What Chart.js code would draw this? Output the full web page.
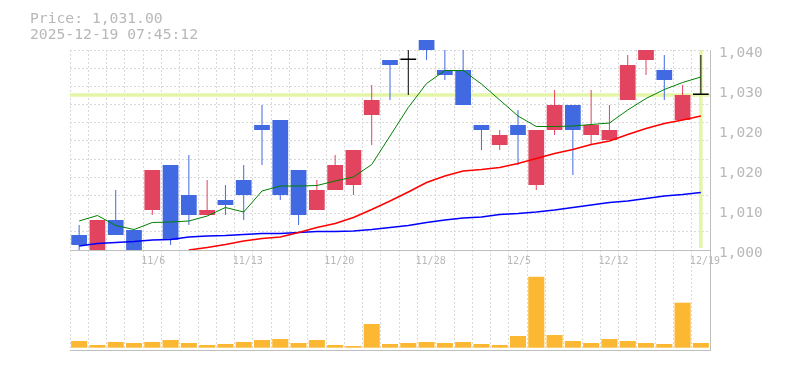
<!DOCTYPE html>
<html>
<head>
<meta charset="utf-8">
<script src="https://cdn.jsdelivr.net/npm/chart.js@4.4.1/dist/chart.umd.min.js"></script>
<style>
  html, body { margin: 0; padding: 0; background: #fff; }
  #wrap { position: relative; width: 785px; height: 370px; }
  #wrap canvas { position: absolute; left: 0; top: 0; }
  #head { position: absolute; left: 30px; top: 10px; font: 14.7px/16px 'DejaVu Sans Mono', monospace; color: #b8b8b8; white-space: pre; }
</style>
</head>
<body>
<div id="wrap">
  <canvas id="chart" width="785" height="370"></canvas>
  <div id="head">Price: 1,031.00
2025-12-19 07:45:12</div>
</div>
<script>
// daily bars, 10/30 .. 12/19
const dates = ['10/30','10/31','11/4','11/5','11/6','11/7','11/10','11/11','11/12','11/13',
  '11/14','11/17','11/18','11/19','11/20','11/21','11/25','11/26','11/27','11/28',
  '12/1','12/2','12/3','12/4','12/5','12/8','12/9','12/10','12/11','12/12',
  '12/15','12/16','12/17','12/18','12/19'];
const tickDates = ['11/6','11/13','11/20','11/28','12/5','12/12','12/19'];

const opens  = [1003, 998,1006,1004,1008,1017,1011,1007,1010,1014,
                1025,1026,1016,1008,1012,1013,1027,1038,1038,1042,
                1036,1036,1025,1021,1025,1013,1024,1029,1023,1022,
                1030,1038,1036,1026,1031];
const highs  = [1005,1006,1012,1004,1016,1017,1019,1014,1013,1017,
                1029,1026,1016,1014,1019,1020,1033,1038,1040,1042,
                1040,1040,1025,1024,1028,1024,1032,1029,1032,1029,
                1039,1040,1039,1033,1039];
const lows   = [ 999, 997,1003, 997,1007,1001,1005,1007,1007,1006,
                1017,1010,1005,1008,1012,1011,1021,1030,1031,1038,
                1034,1029,1020,1020,1017,1012,1023,1015,1021,1022,
                1030,1035,1030,1026,1031];
const closes = [1001,1006,1003, 998,1016,1002,1007,1008,1009,1011,
                1024,1011,1007,1012,1017,1020,1030,1037,1038,1040,
                1035,1029,1024,1023,1023,1024,1029,1024,1025,1024,
                1037,1040,1034,1031,1031];

const ma5  = [1005.8,1006.9,1004.9,1004.1,1005.5,1005.6,1005.8,1006.8,1008.5,1007.6,
              1011.8,1012.8,1012.8,1012.9,1013.8,1014.6,1017.1,1022.8,1028.5,1033.3,
              1035.9,1035.9,1033.2,1030.0,1026.8,1024.7,1024.7,1024.8,1025.1,1025.4,
              1028.0,1030.3,1032.1,1033.5,1034.6];
const ma25 = [null,null,null,null,null,null,1000.0,1000.5,1001.1,1001.8,
              1002.3,1002.6,1003.5,1004.5,1005.3,1006.5,1008.1,1009.8,1011.6,1013.5,
              1014.8,1015.8,1016.1,1016.5,1017.3,1018.3,1019.3,1020.1,1021.1,1021.8,
              1023.1,1024.3,1025.3,1026.0,1026.8];
const ma75 = [1000.8,1001.3,1001.5,1001.7,1002.0,1002.1,1002.6,1002.8,1002.9,1003.1,
              1003.3,1003.3,1003.5,1003.7,1003.7,1003.8,1004.1,1004.5,1004.9,1005.5,
              1006.0,1006.4,1006.6,1007.1,1007.3,1007.6,1008.0,1008.5,1009.0,1009.5,
              1009.8,1010.3,1010.8,1011.1,1011.5];

const volumes = [6700,2700,5700,4700,5700,7700,4700,2700,3700,5700,
                 7700,8700,4700,7700,2700,1700,23700,3700,4700,5700,
                 4700,5700,3700,2700,11700,71000,12700,6700,4700,8700,
                 6700,4700,3700,45000,4700];

const lastPrice = 1031;
const priceTicks = [1000, 1008, 1016, 1024, 1032, 1040];
const priceTickLabels = ['1,000', '1,010', '1,020', '1,020', '1,030', '1,040'];

const UP = '#e2435f', DOWN = '#4169e1', EVEN = '#000000';
function candleColor(c) {
  const i = c.dataIndex;
  if (closes[i] > opens[i]) return UP;
  if (closes[i] < opens[i]) return DOWN;
  return EVEN;
}

// price area is clipped at 1000 but candles may run over the top
const priceClip = {left: 0, top: false, right: 0, bottom: -100};
const GRID = '#d9d9d9', FRAME = '#bfbfbf', TEXT = '#b8b8b8';

const priceLine = {
  id: 'priceLine',
  beforeDatasetsDraw(chart) {
    const {ctx, chartArea, scales: {x, y}} = chart;
    const py = y.getPixelForValue(lastPrice);
    const px = x.getPixelForValue(dates.length - 1);
    ctx.save();
    ctx.strokeStyle = '#e4f5a8';
    ctx.lineWidth = 3.5;
    ctx.beginPath();
    ctx.moveTo(chartArea.left, py);
    ctx.lineTo(chartArea.right, py);
    ctx.moveTo(px, chartArea.top);
    ctx.lineTo(px, y.getPixelForValue(1000) - 2);
    ctx.stroke();
    ctx.restore();
  }
};

new Chart(document.getElementById('chart'), {
  data: {
    labels: dates,
    datasets: [
      { type: 'line', label: 'MA5', data: ma5, yAxisID: 'y', borderColor: '#008000', borderWidth: 1,
        pointRadius: 0, tension: 0, order: 0, clip: priceClip },
      { type: 'line', label: 'MA25', data: ma25, yAxisID: 'y', borderColor: '#ff0000', borderWidth: 1.5,
        pointRadius: 0, tension: 0, order: 0, clip: priceClip },
      { type: 'line', label: 'MA75', data: ma75, yAxisID: 'y', borderColor: '#0000ff', borderWidth: 1.5,
        pointRadius: 0, tension: 0, order: 0, clip: priceClip },
      { type: 'bar', label: 'body', data: opens.map((o, i) => [o, closes[i]]), yAxisID: 'y',
        backgroundColor: candleColor, barPercentage: 0.86, categoryPercentage: 1, grouped: false,
        minBarLength: 1.5, order: 1, clip: priceClip },
      { type: 'bar', label: 'wick', data: lows.map((l, i) => [l, highs[i]]), yAxisID: 'y',
        backgroundColor: candleColor, barThickness: 1, inflateAmount: 0, grouped: false,
        order: 2, clip: priceClip },
      { type: 'bar', label: 'volume', data: volumes, yAxisID: 'yv', backgroundColor: '#fdb833',
        barPercentage: 0.88, categoryPercentage: 1, grouped: false, order: 3 }
    ]
  },
  options: {
    responsive: false,
    animation: false,
    layout: { padding: { left: 70, top: 50, right: 0, bottom: 20 } },
    plugins: { legend: { display: false }, tooltip: { enabled: false }, title: { display: false } },
    scales: {
      x: {
        type: 'category',
        position: { y: 1000 },
        offset: true,
        grid: { offset: true, color: GRID, drawTicks: false },
        border: { display: true, color: FRAME, dash: [2, 2] },
        ticks: {
          autoSkip: false, maxRotation: 0, align: 'start', labelOffset: -11, padding: 5,
          color: TEXT, font: { family: 'DejaVu Sans Mono', size: 10 },
          callback: (v, i) => tickDates.includes(dates[i]) ? dates[i] : ''
        }
      },
      x2: {
        type: 'category',
        position: 'bottom',
        offset: true,
        grid: { display: false, drawTicks: false },
        border: { display: true, color: FRAME },
        ticks: { display: false },
        afterFit: s => { s.height = 0; }
      },
      y: {
        type: 'linear',
        position: 'right',
        min: 980, max: 1040,
        grid: { display: false, drawTicks: false },
        border: { display: true, color: FRAME },
        afterBuildTicks: s => { s.ticks = priceTicks.map(v => ({ value: v })); },
        ticks: {
          padding: 9, labelOffset: 3.5, color: TEXT, font: { family: 'DejaVu Sans Mono', size: 14.5 },
          callback: (v, i) => priceTickLabels[i]
        },
        afterFit: s => { s.width = 75; }
      },
      yg: {
        type: 'linear',
        position: 'left',
        min: 980, max: 1040,
        grid: { color: GRID, drawTicks: false },
        border: { display: false, dash: [2, 2] },
        ticks: { display: false },
        afterBuildTicks: s => {
          const t = [];
          for (let k = 0; k <= 11; k++) t.push({ value: 1000 + k * 40 / 11 });
          s.ticks = t;
        },
        afterFit: s => { s.width = 0; }
      },
      yv: { type: 'linear', display: false, min: -2300, max: 297700 }
    }
  },
  plugins: [priceLine]
});
</script>
</body>
</html>
